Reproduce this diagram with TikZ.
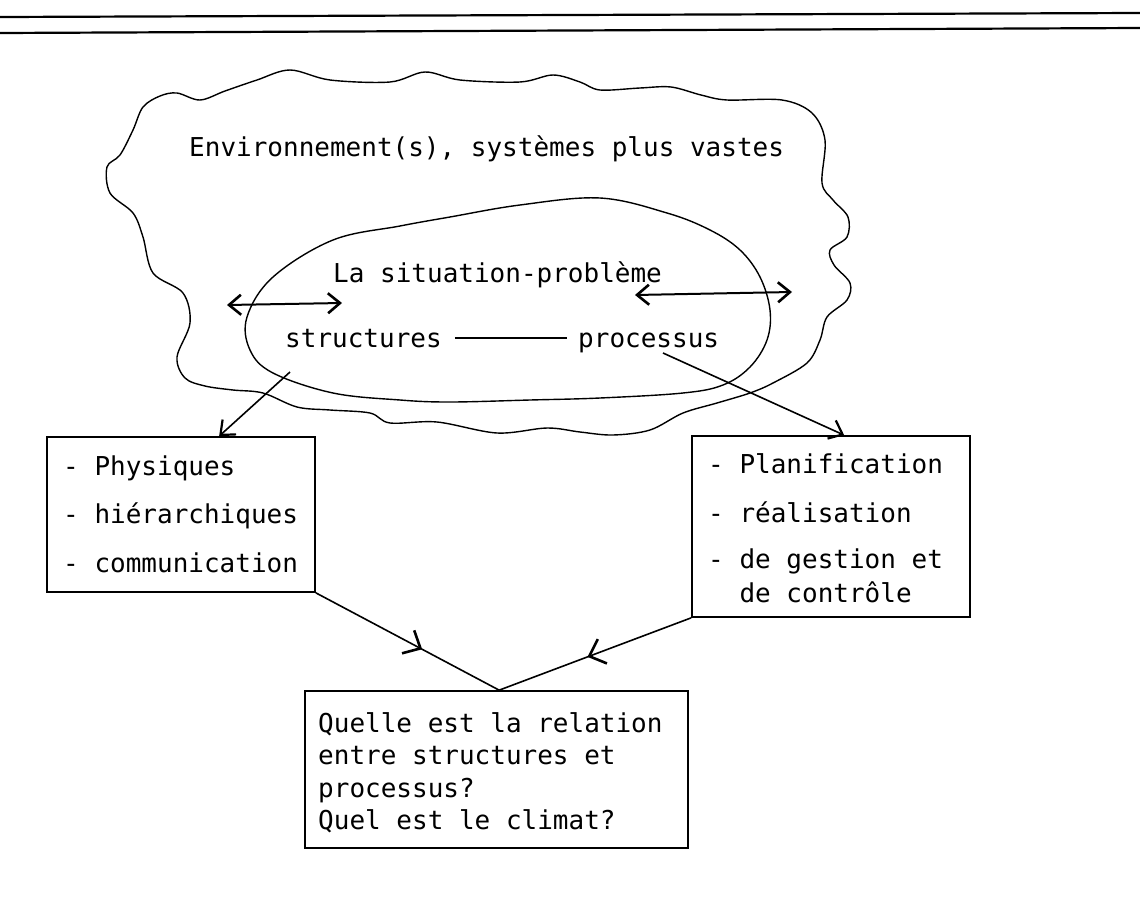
\documentclass[tikz,border=0pt]{standalone}
\usepackage{fontspec}
\setmonofont{DejaVu Sans Mono}
\usetikzlibrary{arrows.meta,decorations.markings,calc}

\begin{document}
\begin{tikzpicture}[x=1pt,y=-1pt,
  rule/.style={line width=2.2pt},
  outline/.style={line width=1.4pt, line join=round},
  conn/.style={line width=1.6pt},
  barbtip/.style={-{Straight Barb[length=12pt,width=20pt,line width=2.2pt]}},
  twoway/.style={line width=2pt,
    {Straight Barb[length=12pt,width=20pt,line width=2.6pt]}-{Straight Barb[length=12pt,width=20pt,line width=2.6pt]}},
  midbarb/.style={postaction={decorate}, decoration={markings,
    mark=at position #1 with {\arrow{Straight Barb[length=14pt,width=26pt,line width=2.6pt]}}}},
  lbl/.style={font=\ttfamily\fontsize{26}{30}\selectfont, inner sep=0pt, anchor=base west},
  frame/.style={draw, line width=1.7pt, inner sep=0pt},
]
\useasboundingbox (0,0) rectangle (1140,897);

% double rule at the head of the page
\draw[rule] (0,17) -- (1140,13);
\draw[rule] (0,33) -- (1140,28);

% wavy outline: the wider environment
\draw[outline] plot[smooth cycle, tension=0.55] coordinates {
  (143,107) (160,96) (177,93) (200,100) (225,91) (257,80) (290,70) (330,80)
  (390,82) (425,72) (460,80) (520,82) (553,75) (580,82) (600,90) (640,88)
  (671,87) (701,95) (727,100) (782,100) (812,113) (825,140) (822,183)
  (833,200) (848,217) (847,237) (830,250) (834,265) (850,283) (847,300)
  (827,317) (820,340) (807,363) (773,383) (750,393) (717,403) (683,413)
  (650,430) (613,435) (580,432) (547,428) (497,433) (437,422) (390,423)
  (370,413) (330,410) (297,407) (263,393) (233,390) (205,386) (185,378)
  (177,357) (190,323) (183,293) (153,273) (143,237) (133,213) (110,193)
  (107,167) (120,155) (133,130)};

% smooth outline: the problem situation
\draw[outline] plot[smooth cycle, tension=0.6] coordinates {
  (247,317) (273,277) (333,240) (400,226) (450,217) (520,205) (600,198)
  (667,213) (710,230) (740,250) (760,277) (770,310) (767,340) (750,367)
  (723,385) (683,393) (600,398) (530,400) (450,402) (400,400) (333,393)
  (273,373) (250,350)};

% labels inside the outlines
\node[lbl] (env) at (189,156) {Environnement(s), systèmes plus vastes};
\node[lbl] (sit) at (333,282) {La situation-problème};
\node[lbl] (structures) at (285,347) {structures};
\node[lbl] (processus) at (578,347) {processus};

\draw[conn, shorten <=13pt, shorten >=11pt]
  (structures.east) -- (structures.east -| processus.west);

% exchanges with the environment
\coordinate (ex1a) at (227,305);
\coordinate (ex1b) at (342,303);
\coordinate (ex2a) at (635,295);
\coordinate (ex2b) at (792,292);
\draw[twoway] (ex1a) -- (ex1b);
\draw[twoway] (ex2a) -- (ex2b);

% boxes
\node[frame, minimum width=268pt, minimum height=155pt] (leftbox) at (181,514.5) {};
\node[frame, minimum width=278pt, minimum height=181pt] (rightbox) at (831,526.5) {};
\node[frame, minimum width=383pt, minimum height=157pt] (qbox) at (496.5,769.5) {};

\node[lbl] (l1) at (63,475) {- Physiques};
\node[lbl] (l2) at (63,523) {- hiérarchiques};
\node[lbl] (l3) at (63,572) {- communication};

\node[lbl] (r1) at (708,473) {- Planification};
\node[lbl] (r2) at (708,522) {- réalisation};
\node[lbl] (r3) at (708,568) {- de gestion et};
\node[lbl] (r4) at (739.3,602) {de contrôle};

\node[lbl] (q1) at (318,732) {Quelle est la relation};
\node[lbl] (q2) at (318,764) {entre structures et};
\node[lbl] (q3) at (318,797) {processus?};
\node[lbl] (q4) at (318,829) {Quel est le climat?};

% connectors
\draw[conn, barbtip] ($(structures.base west)+(5,25)$) -- ($(leftbox.north west)+(173,0)$);
\draw[conn, barbtip] ($(processus.base west)+(85,6)$) -- ($(rightbox.north west)+(153,0)$);
\draw[conn, midbarb=0.58] (leftbox.south east) -- ($(qbox.north west)+(195,0)$);
\draw[conn, midbarb=0.54] (rightbox.south west) -- ($(qbox.north west)+(195,0)$);
\end{tikzpicture}
\end{document}
